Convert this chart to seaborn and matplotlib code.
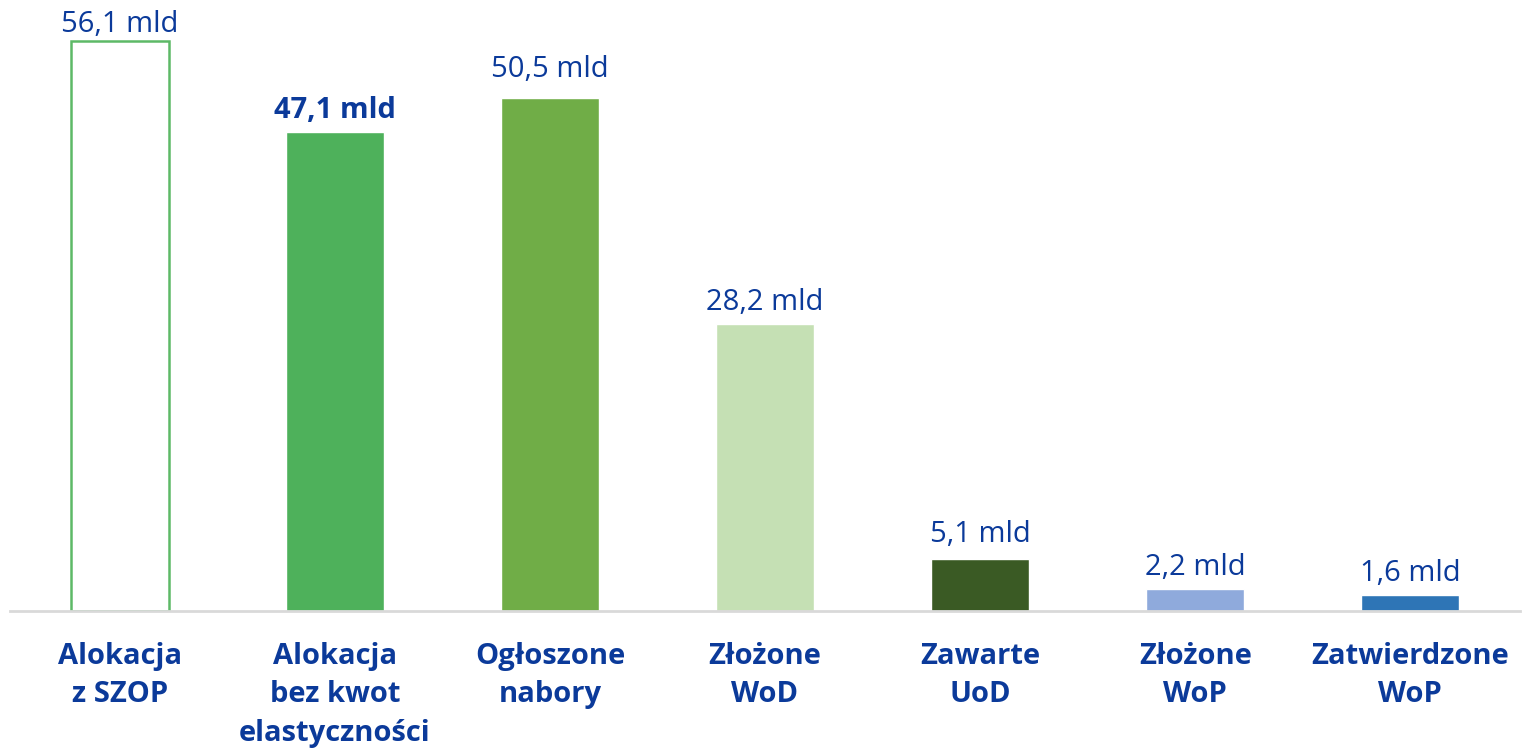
import pandas as pd
import seaborn as sns
import matplotlib.pyplot as plt

sns.set_style('white')
plt.rcParams['font.family'] = ['Open Sans', 'DejaVu Sans']

kategorie = ['Alokacja\nz SZOP', 'Alokacja\nbez kwot\nelastyczności', 'Ogłoszone\nnabory',
             'Złożone\nWoD', 'Zawarte\nUoD', 'Złożone\nWoP', 'Zatwierdzone\nWoP']
wartosci = [56.1, 47.1, 50.5, 28.2, 5.1, 2.2, 1.6]
etykiety = ['56,1 mld', '47,1 mld', '50,5 mld', '28,2 mld', '5,1 mld', '2,2 mld', '1,6 mld']
kolory = ['#FFFFFF', '#4EB15B', '#70AD47', '#C5E0B4', '#3A5A24', '#8FAADC', '#2E75B6']

df = pd.DataFrame({'kat': kategorie, 'wart': wartosci})

granat = '#0B3A9A'
# odstep etykiety od slupka (pt)
odstepy = [1.5, 5, 10, 5, 7, 5, 5]

fig = plt.figure(figsize=(15.31, 7.51), dpi=100)
ax = fig.add_axes([10/1531, 140/751, 1510/1531, 611/751])

sns.barplot(data=df, x='kat', y='wart', hue='kat', palette=kolory, legend=False,
            width=0.455, ax=ax, saturation=1)

# pierwszy słupek - tylko obrys
p0 = ax.patches[0]
p0.set_facecolor('white')
p0.set_edgecolor('#5DB967')
p0.set_linewidth(1.8)

for i, (v, t) in enumerate(zip(wartosci, etykiety)):
    ax.annotate(t, (i, v), xytext=(0, odstepy[i]), textcoords='offset points',
                ha='center', va='bottom', fontsize=21, color=granat,
                fontweight='bold' if i == 1 else 'normal', annotation_clip=False)

ax.set_xlim(-0.51, 6.51)
ax.set_ylim(0, 60.1)
ax.set_xlabel('')
ax.set_ylabel('')
ax.set_yticks([])
ax.tick_params(axis='x', length=0, pad=22)
ax.set_xticks(range(len(kategorie)))
ax.set_xticklabels(kategorie, fontsize=21, fontweight='bold', color=granat,
                   linespacing=1.45, va='top')

for s in ['top', 'right', 'left']:
    ax.spines[s].set_visible(False)
ax.spines['bottom'].set_color('#D9D9D9')
ax.spines['bottom'].set_linewidth(2)

plt.savefig('out.png', dpi=100)
